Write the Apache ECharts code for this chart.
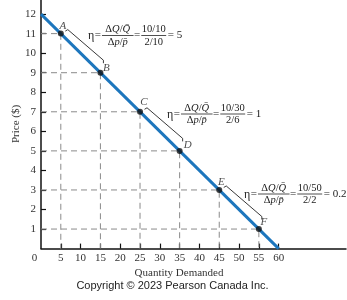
<!DOCTYPE html>
<html><head><meta charset="utf-8">
<script src="https://cdn.jsdelivr.net/npm/echarts@6/dist/echarts.min.js"></script>
<style>html,body{margin:0;padding:0;background:#fff}#c{width:347px;height:300px}</style>
</head><body><div id="c"></div>
<script>
// ---- data ----
const pointNames = ['A', 'B', 'C', 'D', 'E', 'F'];
const quantities = [5, 15, 25, 35, 45, 55];
const prices = [11, 9, 7, 5, 3, 1];
const demandQ = [0, 60];
const demandP = [12, 0];
const demandName = 'D';
const xTickValues = [5, 10, 15, 20, 25, 30, 35, 40, 45, 50, 55, 60];
const xLabelValues = [0, 5, 10, 15, 20, 25, 30, 35, 40, 45, 50, 55, 60];
const yTickValues = [1, 2, 3, 4, 5, 6, 7, 8, 9, 10, 11, 12];
const bracketPairs = [[0, 1], [2, 3], [4, 5]];
const elasticNum = ['10/10', '10/30', '10/50'];
const elasticDen = ['2/10', '2/6', '2/2'];
const elasticVal = ['5', '1', '0.2'];
const xTitle = 'Quantity Demanded';
const yTitle = 'Price ($)';
const copyright = 'Copyright © 2023 Pearson Canada Inc.';

// ---- styles ----
const SERIF = '"Liberation Serif","Times New Roman",serif';
const labelOffsets = [[2, -8], [6, -5], [4, -10], [8, -6], [2, -8], [5, -7]];
const formulaAnchors = [[88, 35.5], [167, 114], [244, 194]];
const BLUE = '#1d76bd';

const chart = echarts.init(document.getElementById('c'));

const guideSeries = quantities.map((q, i) => ({
  type: 'line', silent: true, symbol: 'none', z: 1,
  data: [[0, prices[i]], [q, prices[i]], [q, 0]],
  lineStyle: { color: '#8a8a8a', width: 1, type: [6, 4] }
}));

const cv = document.createElement('canvas').getContext('2d');
function tw(text, size, italic) {
  cv.font = (italic ? 'italic ' : '') + size + 'px ' + SERIF;
  return cv.measureText(text).width;
}

function formula(ax, ay, num, den, val) {
  const fs = 10.5, es = 11;
  const els = [];
  let x = ax;
  const txt = (t, xx, yy, size, opts) => els.push({
    type: 'text', silent: true, z: 10,
    style: Object.assign({ text: t, x: xx, y: yy, font: size + 'px ' + SERIF, fill: '#222', verticalAlign: 'middle', align: 'left' }, opts || {})
  });
  const bar = (x1, x2) => els.push({ type: 'line', silent: true, z: 10, shape: { x1: x1, y1: ay, x2: x2, y2: ay }, style: { stroke: '#222', lineWidth: 0.8 } });
  txt('η', x, ay + 0.5, 12);
  x += tw('η', 12) + 0.5;
  txt('=', x, ay, es); x += tw('=', es) + 1;
  const rich = { n: { font: fs + 'px ' + SERIF, fill: '#222' }, i: { font: 'italic ' + fs + 'px ' + SERIF, fill: '#222' } };
  const w1 = tw('Δ', fs) * 2 + tw('Q', fs, true) * 2 + tw('/', fs);
  const cx1 = x + w1 / 2;
  els.push({ type: 'text', silent: true, z: 10, style: { text: '{n|Δ}{i|Q}{n|/}{i|Q̄}', rich: rich, x: cx1, y: ay - 0.5, align: 'center', verticalAlign: 'bottom' } });
  els.push({ type: 'text', silent: true, z: 10, style: { text: '{n|Δ}{i|p}{n|/}{i|p̄}', rich: rich, x: cx1, y: ay + 1, align: 'center', verticalAlign: 'top' } });
  bar(x, x + w1);
  x += w1 + 0.5;
  txt('=', x, ay, es); x += tw('=', es) + 1;
  const w2 = Math.max(tw(num, fs), tw(den, fs)) + 1;
  const cx2 = x + w2 / 2;
  txt(num, cx2, ay - 0.5, fs, { align: 'center', verticalAlign: 'bottom' });
  txt(den, cx2, ay + 1, fs, { align: 'center', verticalAlign: 'top' });
  bar(x, x + w2);
  x += w2 + 1.5;
  txt('= ' + val, x, ay, es);
  return els;
}

const graphics = [];
formulaAnchors.forEach((a, i) => graphics.push(...formula(a[0], a[1], elasticNum[i], elasticDen[i], elasticVal[i])));
graphics.push({ type: 'text', silent: true, style: { text: xTitle, x: 179, y: 273, align: 'center', verticalAlign: 'middle', font: '11px ' + SERIF, fill: '#333' } });
graphics.push({ type: 'text', silent: true, rotation: Math.PI / 2, x: 16, y: 124, style: { text: yTitle, x: 0, y: 0, align: 'center', verticalAlign: 'middle', font: '11px ' + SERIF, fill: '#333' } });
graphics.push({ type: 'text', silent: true, style: { text: copyright, x: 172.5, y: 286, align: 'center', verticalAlign: 'middle', font: '11px "Liberation Sans", Arial, sans-serif', fill: '#222' } });

const option = {
  animation: false,
  grid: { left: 41, right: 1, top: 0, bottom: 51.4 },
  xAxis: {
    type: 'value', min: 0, max: 77,
    splitLine: { show: false },
    axisLine: { lineStyle: { color: '#111', width: 1.5 } },
    axisTick: { show: true, inside: true, length: 5, customValues: xTickValues, lineStyle: { color: '#111', width: 1.2 } },
    axisLabel: {
      customValues: xLabelValues, margin: 4,
      fontFamily: SERIF, fontSize: 11, color: '#333',
      formatter: v => v === 0 ? '{z|0}' : String(v),
      rich: { z: { padding: [0, 13, 0, 0], fontFamily: SERIF, fontSize: 11, color: '#333' } }
    }
  },
  yAxis: {
    type: 'value', min: 0, max: 12.72,
    splitLine: { show: false },
    axisLine: { lineStyle: { color: '#111', width: 1.5 } },
    axisTick: { show: true, inside: true, length: 5, customValues: yTickValues, lineStyle: { color: '#111', width: 1.2 } },
    axisLabel: { customValues: yTickValues, margin: 5, fontFamily: SERIF, fontSize: 11, color: '#333' }
  },
  graphic: graphics,
  series: [
    ...guideSeries,
    {
      type: 'line', z: 3, symbol: 'none', silent: true,
      data: demandQ.map((q, i) => i === demandQ.length - 1
        ? { value: [q, demandP[i]], symbol: 'circle', symbolSize: 1, itemStyle: { opacity: 0 },
            label: { show: true, position: 'inside', offset: [3, -11], formatter: demandName, fontFamily: SERIF, fontStyle: 'italic', fontSize: 11, color: '#222' } }
        : [q, demandP[i]]),
      lineStyle: { color: BLUE, width: 3 }
    },
    {
      type: 'custom', z: 4, silent: true,
      data: bracketPairs.map(p => [quantities[p[0]], prices[p[0]], quantities[p[1]], prices[p[1]]]),
      renderItem: (params, api) => {
        const a = api.coord([api.value(0), api.value(1)]);
        const b = api.coord([api.value(2), api.value(3)]);
        return {
          type: 'polyline',
          shape: { points: [[a[0] + 4.5, a[1] - 2.5], [a[0] + 7, a[1] - 4], [b[0] + 3, b[1] - 12.5], [b[0] + 3, b[1] - 9.5]] },
          style: { stroke: '#222', lineWidth: 0.9, fill: null }
        };
      }
    },
    {
      type: 'scatter', z: 5, silent: true,
      symbolSize: 6,
      itemStyle: { color: '#111' },
      data: quantities.map((q, i) => ({
        value: [q, prices[i]],
        label: { show: true, position: 'inside', offset: labelOffsets[i], formatter: pointNames[i], fontFamily: SERIF, fontStyle: 'italic', fontSize: 11, color: '#222' }
      }))
    }
  ]
};
chart.setOption(option);
</script>
</body></html>
